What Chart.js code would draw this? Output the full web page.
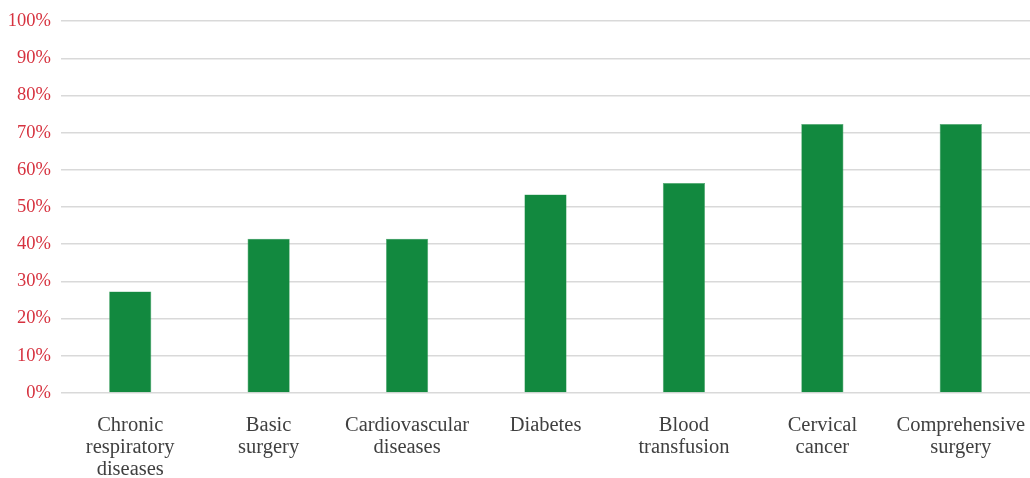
<!DOCTYPE html>
<html>
<head>
<meta charset="utf-8">
<script src="https://cdn.jsdelivr.net/npm/chart.js@4/dist/chart.umd.min.js"></script>
<style>
  html, body { margin: 0; padding: 0; background: #ffffff; }
  #wrap { width: 1030px; height: 478px; position: relative; }
</style>
</head>
<body>
<div id="wrap"><canvas id="chart"></canvas></div>
<script>
// Share of facilities able to provide each service (%)
const categories = [
  ['Chronic', 'respiratory', 'diseases'],
  ['Basic', 'surgery'],
  ['Cardiovascular', 'diseases'],
  'Diabetes',
  ['Blood', 'transfusion'],
  ['Cervical', 'cancer'],
  ['Comprehensive', 'surgery']
];
const shares = [27.3, 41.5, 41.5, 53.4, 56.5, 72.3, 72.3];
const yTicks = [0, 10, 20, 30, 40, 50, 60, 70, 80, 90, 100];

const serif = "'Liberation Serif', 'DejaVu Serif', serif";

new Chart(document.getElementById('chart'), {
  type: 'bar',
  data: {
    labels: categories,
    datasets: [{
      data: shares,
      backgroundColor: '#12893f',
      borderColor: '#4ea76f',
      borderWidth: 0.6,
      barPercentage: 1,
      categoryPercentage: 0.305
    }]
  },
  options: {
    responsive: true,
    maintainAspectRatio: false,
    animation: false,
    layout: { padding: { top: 20, right: 0, left: 0, bottom: 0 } },
    plugins: { legend: { display: false }, tooltip: { enabled: false } },
    scales: {
      x: {
        grid: { display: false, drawTicks: false },
        border: { display: false },
        // fixed band for the wrapped category names; let the plot run to the right edge
        afterFit: s => { s.paddingRight = 0; s.height = 85; },
        ticks: {
          color: '#404040',
          font: { family: serif, size: 20.5, lineHeight: 1.073 },
          padding: 22,
          maxRotation: 0,
          autoSkip: false
        }
      },
      y: {
        min: 0,
        max: 100,
        afterBuildTicks: axis => { axis.ticks = yTicks.map(v => ({ value: v })); },
        afterFit: s => { s.width = 61; },
        grid: { color: '#d9d9d9', lineWidth: 1.5, drawTicks: false },
        border: { display: false },
        ticks: {
          color: '#d6323f',
          font: { family: serif, size: 18.5 },
          padding: 10,
          callback: v => v + '%'
        }
      }
    }
  }
});
</script>
</body>
</html>
